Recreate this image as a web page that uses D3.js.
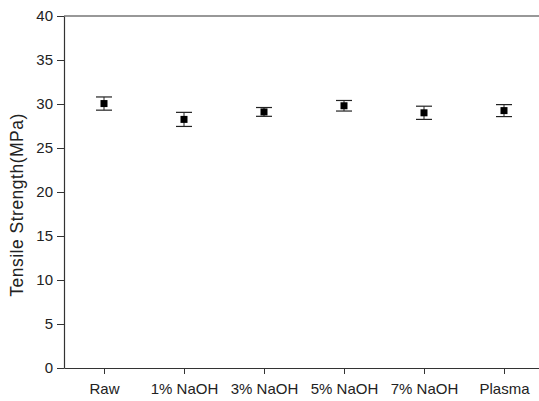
<!DOCTYPE html>
<html>
<head>
<meta charset="utf-8">
<script src="https://cdn.jsdelivr.net/npm/d3@7"></script>
<style>
  html, body { margin: 0; padding: 0; background: #fff; }
  svg { display: block; }
  text { font-family: "Liberation Sans", Arial, sans-serif; fill: #222; }
</style>
</head>
<body>
<div id="chart"></div>
<script>
// Tensile strength of treated samples (mean ± error)
const categories = ["Raw", "1% NaOH", "3% NaOH", "5% NaOH", "7% NaOH", "Plasma"];
const means = [30.05, 28.25, 29.1, 29.8, 29.0, 29.25];
const errors = [0.75, 0.8, 0.5, 0.6, 0.75, 0.68];
const yTicks = [0, 5, 10, 15, 20, 25, 30, 35, 40];
const yLabel = "Tensile Strength(MPa)";

const W = 539, H = 401;
const margin = { left: 64, top: 16, bottom: 33 };

const svg = d3.select("#chart").append("svg")
  .attr("width", W).attr("height", H);

const x = d3.scaleLinear().domain([-0.5, 5.5]).range([margin.left, margin.left + 480]);
const y = d3.scaleLinear().domain([0, 40]).range([H - margin.bottom, margin.top]);

// Bottom axis with category labels
const xAxis = d3.axisBottom(x)
  .tickValues(d3.range(categories.length))
  .tickFormat(i => categories[i])
  .tickSizeInner(6).tickSizeOuter(0).tickPadding(9);
const gx = svg.append("g").attr("transform", `translate(0,${y(0)})`).call(xAxis);

// Left axis
const yAxis = d3.axisLeft(y).tickValues(yTicks).tickSizeInner(7).tickSizeOuter(0).tickPadding(4);
const gy = svg.append("g").attr("transform", `translate(${margin.left},0)`).call(yAxis);

[gx, gy].forEach(g => {
  g.attr("font-size", 15).attr("font-family", "'Liberation Sans', Arial, sans-serif");
  g.selectAll("path.domain").attr("stroke", "#333").attr("stroke-width", 1.2);
  g.selectAll(".tick line").attr("stroke", "#333").attr("stroke-width", 1);
  g.selectAll(".tick text").style("fill", "#222");
});

// Top frame line
svg.append("line")
  .attr("x1", margin.left).attr("x2", W)
  .attr("y1", y(40)).attr("y2", y(40))
  .attr("stroke", "#333").attr("stroke-width", 1.2);

// Y axis title
svg.append("text")
  .attr("transform", "translate(23,205) rotate(-90)")
  .attr("text-anchor", "middle")
  .attr("font-size", 17.5)
  .attr("letter-spacing", 0.5)
  .text(yLabel);

// Error bars and points
const pts = svg.append("g").selectAll("g").data(categories).join("g");
const cap = 8;
pts.append("line")
  .attr("x1", (d, i) => x(i)).attr("x2", (d, i) => x(i))
  .attr("y1", (d, i) => y(means[i] + errors[i]))
  .attr("y2", (d, i) => y(means[i] - errors[i]))
  .attr("stroke", "#222").attr("stroke-width", 1);
pts.append("line")
  .attr("x1", (d, i) => x(i) - cap).attr("x2", (d, i) => x(i) + cap)
  .attr("y1", (d, i) => y(means[i] + errors[i])).attr("y2", (d, i) => y(means[i] + errors[i]))
  .attr("stroke", "#222").attr("stroke-width", 1.2);
pts.append("line")
  .attr("x1", (d, i) => x(i) - cap).attr("x2", (d, i) => x(i) + cap)
  .attr("y1", (d, i) => y(means[i] - errors[i])).attr("y2", (d, i) => y(means[i] - errors[i]))
  .attr("stroke", "#222").attr("stroke-width", 1.2);
pts.append("rect")
  .attr("x", (d, i) => x(i) - 3.5).attr("y", (d, i) => y(means[i]) - 3.5)
  .attr("width", 7).attr("height", 7)
  .attr("fill", "#000");
</script>
</body>
</html>
